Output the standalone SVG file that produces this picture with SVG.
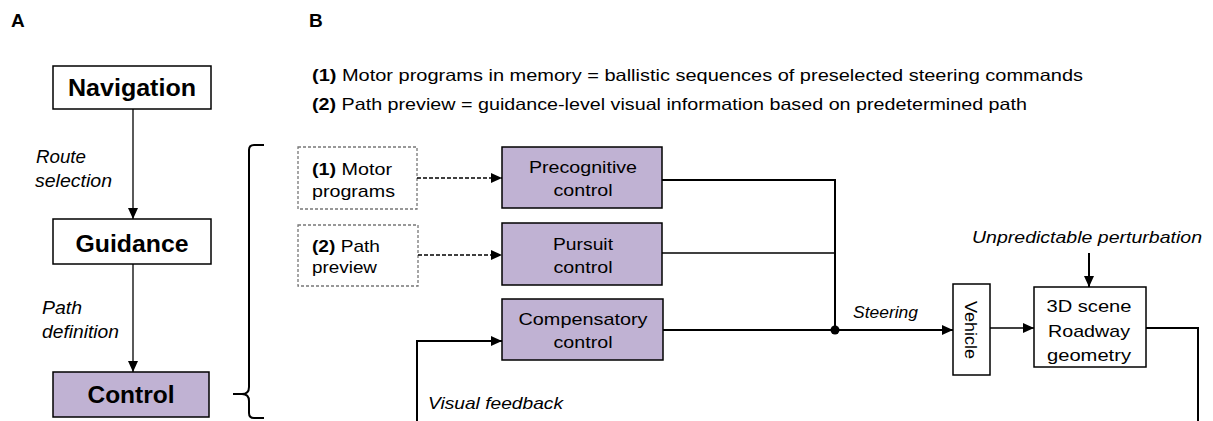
<svg xmlns="http://www.w3.org/2000/svg" width="1213" height="421" viewBox="0 0 1213 421">
<style>
text{font-family:"Liberation Sans",Arial,Helvetica,sans-serif;fill:#000}
.lbl{font-size:19px;font-weight:bold}
.big{font-size:23px;font-weight:bold;text-anchor:middle}
.it{font-style:italic;font-size:17px}
.ita{font-style:italic;font-size:18px}
.bt{font-size:17px;text-anchor:middle}
.dt{font-size:17px}
.hd{font-size:16.5px}
.box{fill:#fff;stroke:#000;stroke-width:1.5}
.pbox{fill:#c0b2d3;stroke:#000;stroke-width:1.5}
.dbox{fill:#fff;stroke:#777;stroke-width:1.3;stroke-dasharray:3,2}
.ln{fill:none;stroke:#000;stroke-width:2}
.thin{fill:none;stroke:#000;stroke-width:1.3}
.dash{fill:none;stroke:#000;stroke-width:1.3;stroke-dasharray:4,2}
</style>
<defs>
<marker id="ah" markerUnits="userSpaceOnUse" markerWidth="11" markerHeight="10" refX="11" refY="5" orient="auto">
<path d="M0,0 L11,5 L0,10 Z" fill="#000"/>
</marker>
</defs>
<rect width="1213" height="421" fill="#fff"/>
<text class="lbl" x="11" y="27">A</text>
<text class="lbl" x="309" y="27">B</text>
<text class="hd" x="312" y="81" textLength="771" lengthAdjust="spacingAndGlyphs"><tspan font-weight="bold">(1)</tspan> Motor programs in memory = ballistic sequences of preselected steering commands</text>
<text class="hd" x="312" y="110" textLength="715" lengthAdjust="spacingAndGlyphs"><tspan font-weight="bold">(2)</tspan> Path preview = guidance-level visual information based on predetermined path</text>
<g id="navigation">
<rect class="box" x="53" y="66" width="158" height="43"/>
<text class="big" x="132" y="96" textLength="128" lengthAdjust="spacingAndGlyphs">Navigation</text>
</g>
<g id="guidance">
<rect class="box" x="53" y="219" width="158" height="45"/>
<text class="big" x="132" y="252" textLength="113" lengthAdjust="spacingAndGlyphs">Guidance</text>
</g>
<g id="control">
<rect class="pbox" x="53" y="372" width="156" height="45"/>
<text class="big" x="131" y="403" textLength="87" lengthAdjust="spacingAndGlyphs">Control</text>
</g>
<g id="brace">
<path class="ln" d="M264,145 H254 Q249,145 249,150 V387 Q249,394 242,394 H233 M242,394 Q249,394 249,401 V413 Q249,418 254,418 H264"/>
</g>
<g id="motor-programs">
<rect class="dbox" x="298" y="147" width="119" height="62"/>
<text class="dt" x="312" y="175" textLength="80" lengthAdjust="spacingAndGlyphs"><tspan font-weight="bold">(1)</tspan> Motor</text>
<text class="dt" x="312" y="197" textLength="83" lengthAdjust="spacingAndGlyphs">programs</text>
</g>
<g id="path-preview">
<rect class="dbox" x="298" y="225" width="120" height="61"/>
<text class="dt" x="312" y="252" textLength="68" lengthAdjust="spacingAndGlyphs"><tspan font-weight="bold">(2)</tspan> Path</text>
<text class="dt" x="312" y="273" textLength="65" lengthAdjust="spacingAndGlyphs">preview</text>
</g>
<g id="precognitive">
<rect class="pbox" x="502" y="147" width="160" height="61"/>
<text class="bt" x="583" y="173" textLength="108" lengthAdjust="spacingAndGlyphs">Precognitive</text>
<text class="bt" x="583" y="196" textLength="59" lengthAdjust="spacingAndGlyphs">control</text>
</g>
<g id="pursuit">
<rect class="pbox" x="502" y="223" width="160" height="62"/>
<text class="bt" x="583" y="250" textLength="60" lengthAdjust="spacingAndGlyphs">Pursuit</text>
<text class="bt" x="583" y="273" textLength="59" lengthAdjust="spacingAndGlyphs">control</text>
</g>
<g id="compensatory">
<rect class="pbox" x="502" y="299" width="161" height="61"/>
<text class="bt" x="583" y="325" textLength="129" lengthAdjust="spacingAndGlyphs">Compensatory</text>
<text class="bt" x="583" y="348" textLength="59" lengthAdjust="spacingAndGlyphs">control</text>
</g>
<g id="vehicle">
<rect class="box" x="953" y="284" width="37" height="91"/>
<text class="bt" transform="translate(965,330) rotate(90)" x="0" y="0" font-size="16.5" textLength="58" lengthAdjust="spacingAndGlyphs">Vehicle</text>
</g>
<g id="scene">
<rect class="box" x="1034" y="287" width="112" height="80"/>
<text class="bt" x="1089" y="312" textLength="85" lengthAdjust="spacingAndGlyphs">3D scene</text>
<text class="bt" x="1089" y="337" textLength="82" lengthAdjust="spacingAndGlyphs">Roadway</text>
<text class="bt" x="1089" y="361" textLength="84" lengthAdjust="spacingAndGlyphs">geometry</text>
</g>
<g id="connectors">
<line class="thin" x1="133" y1="109" x2="133" y2="219" marker-end="url(#ah)"/>
<line class="thin" x1="133" y1="264" x2="133" y2="372" marker-end="url(#ah)"/>
<line class="dash" x1="417" y1="178" x2="502" y2="178" marker-end="url(#ah)"/>
<line class="dash" x1="418" y1="255" x2="502" y2="255" marker-end="url(#ah)"/>
<polyline class="ln" points="662,180 835,180 835,330"/>
<line class="thin" x1="662" y1="253" x2="835" y2="253"/>
<line class="ln" x1="663" y1="330" x2="953" y2="330" marker-end="url(#ah)"/>
<circle cx="835" cy="330" r="4.5" fill="#000"/>
<line class="thin" x1="990" y1="328" x2="1034" y2="328" marker-end="url(#ah)"/>
<line class="ln" x1="1089" y1="253" x2="1089" y2="287" marker-end="url(#ah)"/>
<polyline class="ln" points="1146,328 1198,328 1198,421"/>
<polyline class="ln" points="417,421 417,341 502,341" marker-end="url(#ah)"/>
<text class="ita" x="36" y="163" textLength="50" lengthAdjust="spacingAndGlyphs">Route</text>
<text class="ita" x="35" y="187" textLength="77" lengthAdjust="spacingAndGlyphs">selection</text>
<text class="ita" x="42" y="314" textLength="40" lengthAdjust="spacingAndGlyphs">Path</text>
<text class="ita" x="42" y="338" textLength="77" lengthAdjust="spacingAndGlyphs">definition</text>
<text class="it" x="853" y="318" font-size="16" textLength="65" lengthAdjust="spacingAndGlyphs">Steering</text>
<text class="it" x="428" y="409" textLength="135" lengthAdjust="spacingAndGlyphs">Visual feedback</text>
<text class="it" x="972" y="243" textLength="230" lengthAdjust="spacingAndGlyphs">Unpredictable perturbation</text>
</g>
</svg>
